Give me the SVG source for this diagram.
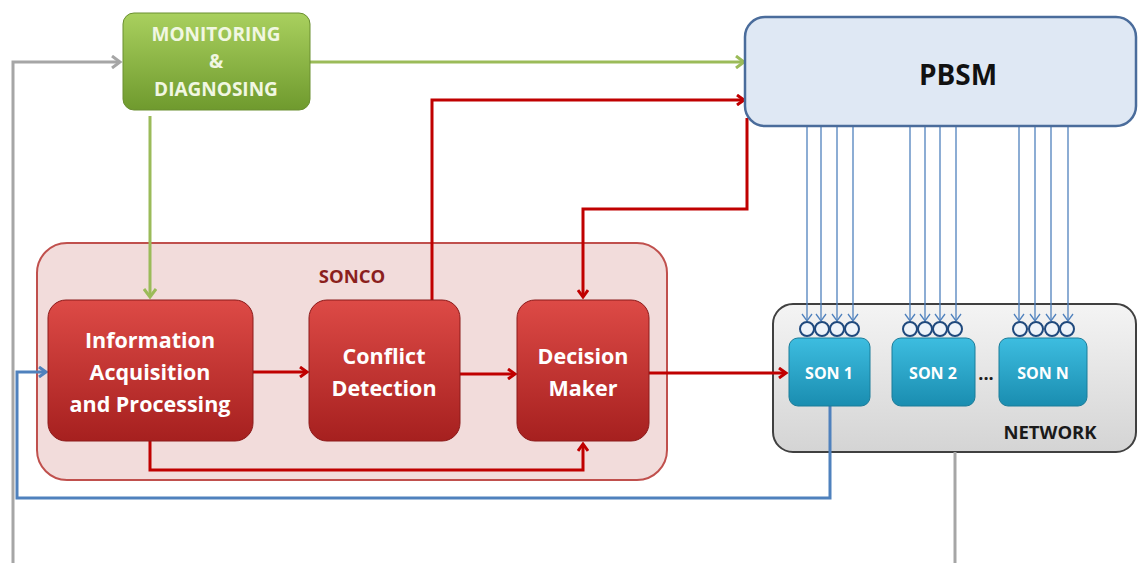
<svg xmlns="http://www.w3.org/2000/svg" width="1139" height="563" viewBox="0 0 1139 563">
<defs>
<linearGradient id="gGreen" x1="0" y1="0" x2="0" y2="1"><stop offset="0" stop-color="#a9d05e"/><stop offset="1" stop-color="#6f9a2e"/></linearGradient>
<linearGradient id="gRed" x1="0" y1="0" x2="0" y2="1"><stop offset="0" stop-color="#dd4a46"/><stop offset="1" stop-color="#a6201f"/></linearGradient>
<linearGradient id="gTeal" x1="0" y1="0" x2="0" y2="1"><stop offset="0" stop-color="#3dbde0"/><stop offset="1" stop-color="#1a8db0"/></linearGradient>
<linearGradient id="gGray" x1="0" y1="0" x2="0" y2="1"><stop offset="0" stop-color="#f4f4f4"/><stop offset="1" stop-color="#d4d4d4"/></linearGradient>
<marker id="aRed" markerWidth="12" markerHeight="12" refX="9" refY="6" orient="auto" markerUnits="userSpaceOnUse"><path d="M2,1 L9,6 L2,11" fill="none" stroke="#c00000" stroke-width="3"/></marker>
<marker id="aGreen" markerWidth="14" markerHeight="14" refX="10" refY="7" orient="auto" markerUnits="userSpaceOnUse"><path d="M2,1 L10,7 L2,13" fill="none" stroke="#9bbb59" stroke-width="3"/></marker>
<marker id="aGray" markerWidth="14" markerHeight="14" refX="10" refY="7" orient="auto" markerUnits="userSpaceOnUse"><path d="M2,1 L10,7 L2,13" fill="none" stroke="#a6a6a6" stroke-width="3"/></marker>
<marker id="aBlue" markerWidth="12" markerHeight="12" refX="9" refY="6" orient="auto" markerUnits="userSpaceOnUse"><path d="M2,1 L9,6 L2,11" fill="none" stroke="#4f81bd" stroke-width="3"/></marker>
<marker id="aThin" markerWidth="12" markerHeight="12" refX="8" refY="6" orient="auto" markerUnits="userSpaceOnUse"><path d="M1,1 L8,6 L1,11" fill="none" stroke="#4f81bd" stroke-width="1.3"/></marker>
</defs>
<style>
.t{font-family:"Open Sans","Liberation Sans",sans-serif;font-weight:bold;text-anchor:middle}
.w{fill:#ffffff}
.red{fill:none;stroke:#c00000;stroke-width:3}
.thin{fill:none;stroke:#4f81bd;stroke-width:1.3;marker-end:url(#aThin)}
.circ{fill:#eef3f9;stroke:#1f497d;stroke-width:2}
.box{stroke:#8c1a1a;stroke-width:1}
</style>

<g id="sonco">
<rect x="37" y="243" width="630" height="237" rx="30" fill="#f2dcdb" stroke="#c0504d" stroke-width="2"/>
<text class="t" x="352" y="283" font-size="18.5" fill="#8b1f1d">SONCO</text>
</g>

<g id="network">
<rect x="773" y="304" width="363" height="148" rx="20" fill="url(#gGray)" stroke="#404040" stroke-width="2"/>
<text class="t" x="1050" y="439" font-size="18.5" fill="#1a1a1a">NETWORK</text>
<text class="t" x="986" y="380" font-size="18" fill="#1a1a1a">...</text>
</g>

<g id="connectors">
<path d="M13,563 V62 H120" fill="none" stroke="#a6a6a6" stroke-width="3" marker-end="url(#aGray)"/>
<path d="M955,452 V563" fill="none" stroke="#a6a6a6" stroke-width="3"/>
<path d="M310,62 H744" fill="none" stroke="#9bbb59" stroke-width="3" marker-end="url(#aGreen)"/>
<path d="M150,116 V297" fill="none" stroke="#9bbb59" stroke-width="3" marker-end="url(#aGreen)"/>
<path class="red" d="M432,300 V100 H744" marker-end="url(#aRed)"/>
<path class="red" d="M747,118 V209 H583 V297" marker-end="url(#aRed)"/>
<path class="red" d="M253,372 H307" marker-end="url(#aRed)"/>
<path class="red" d="M460,374 H515" marker-end="url(#aRed)"/>
<path class="red" d="M649,373 H786" marker-end="url(#aRed)"/>
<path class="red" d="M150,441 V470 H583 V444" marker-end="url(#aRed)"/>
<path d="M830,406 V498 H17 V372 H46" fill="none" stroke="#4f81bd" stroke-width="3" marker-end="url(#aBlue)"/>
<path class="thin" d="M807,126 V321"/>
<path class="thin" d="M821,126 V321"/>
<path class="thin" d="M837,126 V321"/>
<path class="thin" d="M853,126 V321"/>
<path class="thin" d="M910,126 V321"/>
<path class="thin" d="M925,126 V321"/>
<path class="thin" d="M940,126 V321"/>
<path class="thin" d="M956,126 V321"/>
<path class="thin" d="M1019,126 V321"/>
<path class="thin" d="M1035,126 V321"/>
<path class="thin" d="M1051,126 V321"/>
<path class="thin" d="M1068,126 V321"/>
</g>

<g id="monitoring">
<rect x="123" y="13" width="187" height="97" rx="11" fill="url(#gGreen)" stroke="#6a8f30" stroke-width="1"/>
<text class="t" x="216" y="41" font-size="19" fill="#f1f7e2">MONITORING</text>
<text class="t" x="216" y="68" font-size="19" fill="#f1f7e2">&amp;</text>
<text class="t" x="216" y="96" font-size="19" fill="#f1f7e2">DIAGNOSING</text>
</g>

<g id="pbsm">
<rect x="745" y="17" width="391" height="109" rx="20" fill="#dfe8f4" stroke="#4a6c9b" stroke-width="2.5"/>
<text class="t" x="958" y="85" font-size="28" fill="#111111">PBSM</text>
</g>

<g id="info">
<rect class="box" x="48" y="300" width="205" height="141" rx="18" fill="url(#gRed)"/>
<text class="t w" x="150" y="348" font-size="21.5">Information</text>
<text class="t w" x="150" y="380" font-size="21.5">Acquisition</text>
<text class="t w" x="150" y="412" font-size="21.5">and Processing</text>
</g>

<g id="conflict">
<rect class="box" x="309" y="300" width="151" height="141" rx="18" fill="url(#gRed)"/>
<text class="t w" x="384" y="364" font-size="21.5">Conflict</text>
<text class="t w" x="384" y="396" font-size="21.5">Detection</text>
</g>

<g id="decision">
<rect class="box" x="517" y="300" width="132" height="141" rx="18" fill="url(#gRed)"/>
<text class="t w" x="583" y="364" font-size="21.5">Decision</text>
<text class="t w" x="583" y="396" font-size="21.5">Maker</text>
</g>

<g id="son1">
<rect x="789" y="338" width="81" height="68" rx="9" fill="url(#gTeal)" stroke="#1b7c99" stroke-width="1"/>
<text class="t w" x="829" y="379" font-size="16">SON 1</text>
<circle class="circ" cx="807" cy="329" r="7"/><circle class="circ" cx="822" cy="329" r="7"/><circle class="circ" cx="837" cy="329" r="7"/><circle class="circ" cx="852" cy="329" r="7"/>
</g>

<g id="son2">
<rect x="892" y="338" width="83" height="68" rx="9" fill="url(#gTeal)" stroke="#1b7c99" stroke-width="1"/>
<text class="t w" x="933" y="379" font-size="16">SON 2</text>
<circle class="circ" cx="910" cy="329" r="7"/><circle class="circ" cx="925" cy="329" r="7"/><circle class="circ" cx="940" cy="329" r="7"/><circle class="circ" cx="955" cy="329" r="7"/>
</g>

<g id="sonN">
<rect x="999" y="338" width="88" height="68" rx="9" fill="url(#gTeal)" stroke="#1b7c99" stroke-width="1"/>
<text class="t w" x="1043" y="379" font-size="16">SON N</text>
<circle class="circ" cx="1020" cy="329" r="7"/><circle class="circ" cx="1036" cy="329" r="7"/><circle class="circ" cx="1052" cy="329" r="7"/><circle class="circ" cx="1067" cy="329" r="7"/>
</g>
</svg>
